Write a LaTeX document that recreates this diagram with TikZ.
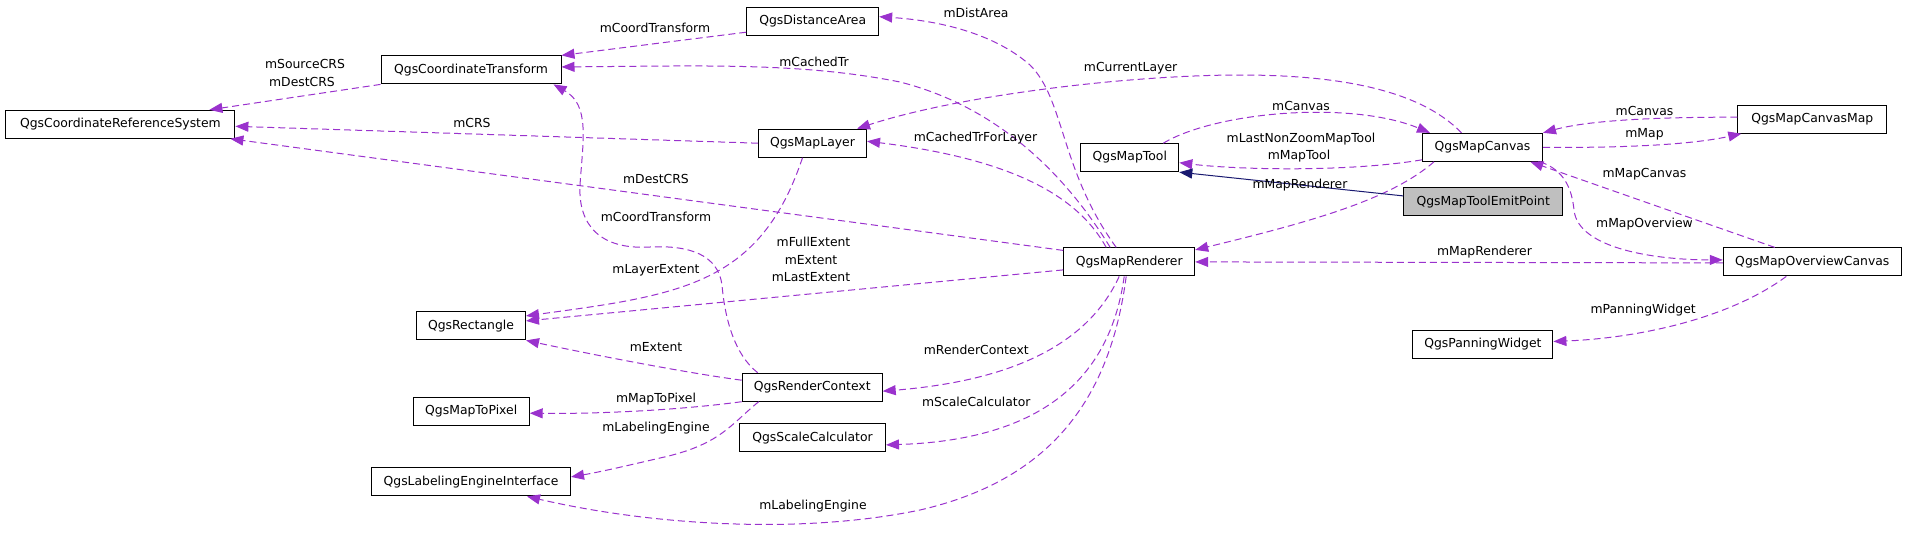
\documentclass[tikz,border=0pt]{standalone}
\usepackage{fontspec}
\setmainfont{DejaVu Sans}
\usetikzlibrary{arrows.meta, calc}

\definecolor{edgepurple}{HTML}{9A32CD}
\definecolor{inhblue}{HTML}{191970}
\definecolor{basegrey}{HTML}{BFBFBF}

\begin{document}
\begin{tikzpicture}[
    x=1pt, y=-1pt, % pixel grid, y runs downwards
    >={Triangle[length=13pt, width=10pt]}, % doxygen style arrow heads
    font=\fontsize{12.4pt}{15pt}\selectfont,
    cls/.style={draw=black, line width=1pt, minimum height=28pt, inner xsep=4pt, text height=9pt, text depth=2.5pt}, % class boxes
    lab/.style={inner sep=0pt, text height=9pt, text depth=0pt}, % member names
    member/.style={->, edgepurple, line width=1pt, dash pattern=on 7pt off 4pt},
    derived/.style={->, inhblue, line width=1pt}
]
\useasboundingbox (0,0) rectangle (1907,549);

% Classes
\node[cls, minimum width=229pt] (crs) at (120.4,124.3) {QgsCoordinateReferenceSystem};
\node[cls, minimum width=180pt] (ct) at (471,69.9) {QgsCoordinateTransform};
\node[cls, minimum width=132pt] (dist) at (812.7,21.7) {QgsDistanceArea};
\node[cls, minimum width=108pt] (layer) at (812.5,143.2) {QgsMapLayer};
\node[cls, minimum width=98pt] (tool) at (1129.8,157.7) {QgsMapTool};
\node[cls, minimum width=131pt] (rend) at (1129.2,261.9) {QgsMapRenderer};
\node[cls, minimum width=120pt] (canvas) at (1482.5,147.3) {QgsMapCanvas};
\node[cls, minimum width=149pt] (cmap) at (1812.3,119.2) {QgsMapCanvasMap};
\node[cls, fill=basegrey, minimum width=159pt] (emit) at (1483.2,201.9) {QgsMapToolEmitPoint};
\node[cls, minimum width=178pt] (over) at (1812.3,261.9) {QgsMapOverviewCanvas};
\node[cls, minimum width=109pt] (rect) at (471,325.9) {QgsRectangle};
\node[cls, minimum width=116pt] (m2p) at (471.2,411.2) {QgsMapToPixel};
\node[cls, minimum width=199pt] (lei) at (471,481.9) {QgsLabelingEngineInterface};
\node[cls, minimum width=140pt] (rctx) at (812.2,387.2) {QgsRenderContext};
\node[cls, minimum width=146pt] (scale) at (812.5,437.9) {QgsScaleCalculator};
\node[cls, minimum width=140pt] (pan) at (1482.9,344.5) {QgsPanningWidget};

% Usage relations
\draw[member] (ct.south west) -- ($(crs.north east)+(-26,0)$);
\draw[member] (layer.west) -- ($(crs.east)+(0,2)$);
\draw[member] ($(rend.north west)+(0,3)$) -- ($(crs.south east)+(-5,0)$);
\draw[member] ($(dist.south west)+(0,-4)$) -- (ct.north east);
\draw[member] ($(rend.north)+(-19,0)$) .. controls (1075,190) and (1010,110) .. (900,82)
    .. controls (800,62) and (700,66) .. ($(ct.east)+(0,-3)$);
\draw[member] ($(rctx.north west)+(16,0)$) .. controls (735,355) and (725,320) .. (722,285)
    .. controls (718,255) and (690,245) .. (650,247)
    .. controls (600,250) and (578,225) .. (580,185)
    .. controls (583,140) and (590,105) .. ($(ct.south east)+(-8,0)$);
\draw[member] ($(layer.south)+(-10,0)$) .. controls (760,285) and (680,295) .. ($(rect.east)+(0,-10)$);
\draw[member] ($(rend.west)+(0,8)$) -- ($(rect.east)+(0,-5)$);
\draw[member] ($(rctx.west)+(0,-7)$) .. controls (680,372) and (580,352) .. (rect.south east);
\draw[member] (rctx.south west) .. controls (680,410) and (600,414) .. ($(m2p.east)+(0,2)$);
\draw[member] ($(rctx.south west)+(17,0)$) .. controls (730,425) and (720,445) .. (660,458)
    .. controls (630,465) and (600,472) .. ($(lei.east)+(0,-5)$);
\draw[member] ($(rend.south)+(-3,0)$) .. controls (1110,400) and (1050,480) .. (920,510)
    .. controls (800,535) and (650,525) .. ($(lei.south east)+(-44,0)$);
\draw[member] ($(rend.south)+(-10,0)$) .. controls (1090,340) and (1020,380) .. ($(rctx.east)+(0,4)$);
\draw[member] ($(rend.south)+(-5,0)$) .. controls (1110,380) and (1040,440) .. ($(scale.east)+(0,7)$);
\draw[member] ($(rend.north)+(-13,0)$) .. controls (1060,170) and (1065,100) .. (1030,65)
    .. controls (990,30) and (930,20) .. ($(dist.east)+(0,-5)$);
\draw[member] ($(rend.north)+(-23,0)$) .. controls (1080,200) and (1020,160) .. ($(layer.east)+(0,-2)$);
\draw[member] ($(canvas.north)+(-21,0)$) .. controls (1420,90) and (1340,75) .. (1240,75)
    .. controls (1130,75) and (960,95) .. ($(layer.north east)+(-10,0)$);
\draw[member] ($(tool.north east)+(-16,0)$) .. controls (1215,112) and (1350,100) .. ($(canvas.north west)+(8,0)$);
\draw[member] ($(canvas.south west)+(0,-2)$) .. controls (1350,172) and (1240,170) .. ($(tool.east)+(0,5)$);
\draw[member] ($(canvas.south west)+(12,0)$) .. controls (1390,200) and (1310,222) .. ($(rend.east)+(0,-12)$);
\draw[member] ($(over.west)+(0,1)$) -- (rend.east);
\draw[member] ($(canvas.south east)+(-3,0)$) .. controls (1565,170) and (1572,190) .. (1574,210)
    .. controls (1578,250) and (1660,260) .. ($(over.west)+(0,-2)$);
\draw[member] ($(over.north)+(-37.5,0)$) -- ($(canvas.south east)+(-12.7,0)$);
\draw[member] ($(cmap.west)+(0,-2)$) .. controls (1660,117) and (1590,120) .. (canvas.north east);
\draw[member] (canvas.east) .. controls (1620,148) and (1690,145) .. ($(cmap.south west)+(4,0)$);
\draw[member] ($(over.south)+(-26,0)$) .. controls (1730,318) and (1640,338) .. ($(pan.east)+(0,-3)$);

% Inheritance
\draw[derived] ($(emit.west)+(0,-6)$) -- (tool.south east);

% Member names
\node[lab] (l-srccrs) at (305,64.3) {mSourceCRS};
\node[lab] (l-dstcrs) at (302,82.3) {mDestCRS};
\node[lab] (l-crs) at (472,122.7) {mCRS};
\node[lab] (l-dstcrs2) at (656,178.7) {mDestCRS};
\node[lab] (l-ct) at (655,28.3) {mCoordTransform};
\node[lab] (l-cachedtr) at (814,61.7) {mCachedTr};
\node[lab] (l-ct2) at (656,217.3) {mCoordTransform};
\node[lab] (l-layerext) at (656,269.3) {mLayerExtent};
\node[lab] (l-full) at (813.5,242.3) {mFullExtent};
\node[lab] (l-ext) at (811,260.3) {mExtent};
\node[lab] (l-last) at (811,277) {mLastExtent};
\node[lab] (l-ext2) at (656,346.7) {mExtent};
\node[lab] (l-m2p) at (656,398.3) {mMapToPixel};
\node[lab] (l-le) at (656,426.7) {mLabelingEngine};
\node[lab] (l-rctx) at (976.3,350.3) {mRenderContext};
\node[lab] (l-scale) at (976.3,401.7) {mScaleCalculator};
\node[lab] (l-le2) at (813,504.7) {mLabelingEngine};
\node[lab] (l-dist) at (976,12.7) {mDistArea};
\node[lab] (l-trlayer) at (975.5,136.7) {mCachedTrForLayer};
\node[lab] (l-curlayer) at (1130.6,66.7) {mCurrentLayer};
\node[lab] (l-canvas) at (1301,105.7) {mCanvas};
\node[lab] (l-lastnz) at (1301,138.3) {mLastNonZoomMapTool};
\node[lab] (l-tool) at (1299,155) {mMapTool};
\node[lab] (l-rend) at (1300,184.3) {mMapRenderer};
\node[lab] (l-canvas2) at (1644.5,110.7) {mCanvas};
\node[lab] (l-map) at (1644.5,132.7) {mMap};
\node[lab] (l-mapcanvas) at (1644.5,172.7) {mMapCanvas};
\node[lab] (l-overview) at (1644.5,222.7) {mMapOverview};
\node[lab] (l-rend2) at (1484.5,250.7) {mMapRenderer};
\node[lab] (l-pan) at (1643.2,308.7) {mPanningWidget};

\end{tikzpicture}
\end{document}
